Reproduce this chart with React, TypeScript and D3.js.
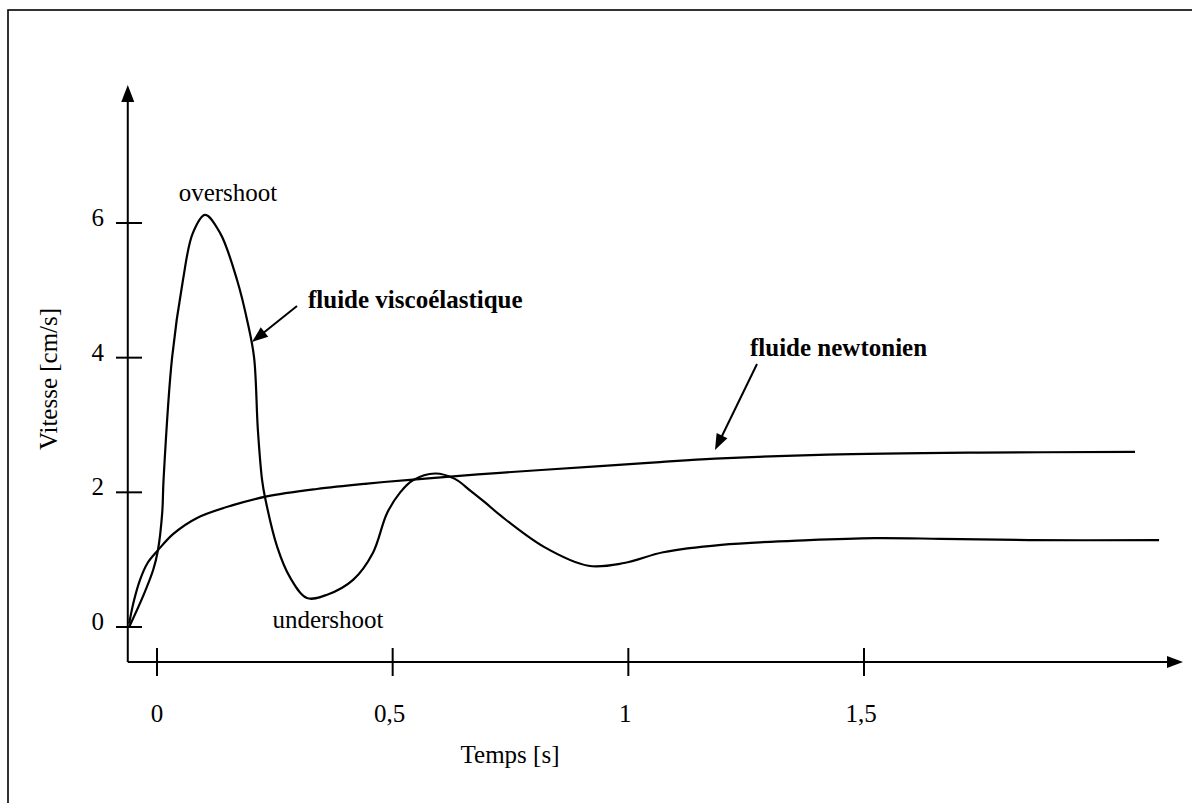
import React from "react";
import * as d3 from "d3";

// Time values (s) and velocities (cm/s)
const viscoT = [-0.059, -0.03, -0.008, 0.002, 0.011, 0.014, 0.032, 0.055, 0.076, 0.102, 0.134, 0.17, 0.193, 0.206, 0.214, 0.223, 0.229, 0.255, 0.282, 0.318, 0.361, 0.416, 0.458, 0.488, 0.516, 0.543, 0.59, 0.632, 0.664, 0.696, 0.728, 0.821, 0.915, 0.991, 1.074, 1.197, 1.383, 1.523, 1.663, 1.85, 2.126];
const viscoV = [0.0, 0.45, 0.85, 1.14, 1.69, 2.2, 4.0, 5.15, 5.85, 6.12, 5.85, 5.15, 4.5, 4.0, 2.93, 2.18, 1.93, 1.19, 0.74, 0.43, 0.48, 0.7, 1.1, 1.69, 2.0, 2.18, 2.28, 2.2, 2.03, 1.85, 1.66, 1.19, 0.91, 0.95, 1.11, 1.22, 1.29, 1.32, 1.31, 1.29, 1.29];

const newtT = [-0.059, -0.05, -0.036, -0.02, 0.002, 0.034, 0.085, 0.161, 0.233, 0.339, 0.446, 0.543, 0.728, 0.94, 1.067, 1.184, 1.422, 1.746, 2.075];
const newtV = [0.05, 0.36, 0.7, 0.95, 1.14, 1.38, 1.62, 1.81, 1.94, 2.05, 2.13, 2.19, 2.29, 2.39, 2.45, 2.5, 2.56, 2.59, 2.6];

const xTicks = [0, 0.5, 1, 1.5];
const xTickLabels = ["0", "0,5", "1", "1,5"];
const yTicks = [0, 2, 4, 6];
const yTickLabels = ["0", "2", "4", "6"];

const xTitle = "Temps [s]";
const yTitle = "Vitesse [cm/s]";

export default function App() {
  const W = 1192;
  const H = 803;
  const x = d3.scaleLinear().domain([0, 1.5]).range([157, 864]);
  const y = d3.scaleLinear().domain([0, 6]).range([627, 223]);

  const axisX0 = x(-0.062);
  const axisY0 = y(-0.52);
  const xEnd = 1183;
  const yEnd = 85;

  const line = d3
    .line<[number, number]>()
    .x((d) => x(d[0]))
    .y((d) => y(d[1]))
    .curve(d3.curveCatmullRom.alpha(0.5));

  const viscoPath = line(viscoT.map((t, i) => [t, viscoV[i]]) as [number, number][]) || "";
  const newtPath = line(newtT.map((t, i) => [t, newtV[i]]) as [number, number][]) || "";

  const font = "'Liberation Serif', 'Times New Roman', serif";

  const arrowHead = (x1: number, y1: number, x2: number, y2: number, len = 16, half = 6) => {
    const a = Math.atan2(y2 - y1, x2 - x1);
    const bx = x2 - len * Math.cos(a);
    const by = y2 - len * Math.sin(a);
    const px = -Math.sin(a) * half;
    const py = Math.cos(a) * half;
    return `M${x2},${y2}L${bx + px},${by + py}L${bx - px},${by - py}Z`;
  };

  const va = { x1: 297, y1: 306, x2: 252, y2: 342 };
  const na = { x1: 757, y1: 364, x2: 715, y2: 450 };

  return (
    <svg
      width={W}
      height={H}
      viewBox={`0 0 ${W} ${H}`}
      style={{ position: "absolute", left: 0, top: 0, background: "#fff" }}
    >
      <rect x={0} y={0} width={W} height={H} fill="#fff" />
      {/* frame */}
      <rect x={8} y={10} width={W + 20} height={H + 20} fill="none" stroke="#000" strokeWidth={1.6} />

      {/* axes */}
      <line x1={axisX0} y1={axisY0} x2={axisX0} y2={yEnd + 12} stroke="#000" strokeWidth={2} />
      <path d={arrowHead(axisX0, axisY0, axisX0, yEnd, 17, 6.5)} fill="#000" />
      <line x1={axisX0} y1={axisY0} x2={xEnd - 12} y2={axisY0} stroke="#000" strokeWidth={2} />
      <path d={arrowHead(axisX0, axisY0, xEnd, axisY0, 16, 6)} fill="#000" />

      {/* y ticks */}
      {yTicks.map((v, i) => (
        <g key={"yt" + i}>
          <line x1={116} x2={142} y1={y(v)} y2={y(v)} stroke="#000" strokeWidth={2} />
          <text x={104} y={y(v) + 3} textAnchor="end" fontFamily={font} fontSize={25}>
            {yTickLabels[i]}
          </text>
        </g>
      ))}

      {/* x ticks */}
      {xTicks.map((t, i) => (
        <g key={"xt" + i}>
          <line x1={x(t)} x2={x(t)} y1={axisY0 - 14} y2={axisY0 + 14} stroke="#000" strokeWidth={2} />
          <text x={x(t) - (i === 0 ? 0 : 3)} y={722} textAnchor="middle" fontFamily={font} fontSize={25}>
            {xTickLabels[i]}
          </text>
        </g>
      ))}

      {/* titles */}
      <text x={510} y={763} textAnchor="middle" fontFamily={font} fontSize={25}>
        {xTitle}
      </text>
      <text
        transform={`translate(57,379) rotate(-90)`}
        textAnchor="middle"
        fontFamily={font}
        fontSize={25}
      >
        {yTitle}
      </text>

      {/* curves */}
      <path d={newtPath} fill="none" stroke="#000" strokeWidth={2.2} />
      <path d={viscoPath} fill="none" stroke="#000" strokeWidth={2.2} />

      {/* annotations */}
      <text x={228} y={201} textAnchor="middle" fontFamily={font} fontSize={25}>
        overshoot
      </text>
      <text x={328} y={628} textAnchor="middle" fontFamily={font} fontSize={25}>
        undershoot
      </text>
      <text x={308} y={308} fontFamily={font} fontSize={25} fontWeight="bold">
        fluide viscoélastique
      </text>
      <text x={750} y={356} fontFamily={font} fontSize={25} fontWeight="bold">
        fluide newtonien
      </text>

      <line x1={va.x1} y1={va.y1} x2={va.x2 + 10} y2={va.y2 - 8} stroke="#000" strokeWidth={2} />
      <path d={arrowHead(va.x1, va.y1, va.x2, va.y2, 16, 6)} fill="#000" />
      <line x1={na.x1} y1={na.y1} x2={na.x2 + 6} y2={na.y2 - 12} stroke="#000" strokeWidth={2} />
      <path d={arrowHead(na.x1, na.y1, na.x2, na.y2, 16, 6)} fill="#000" />
    </svg>
  );
}
